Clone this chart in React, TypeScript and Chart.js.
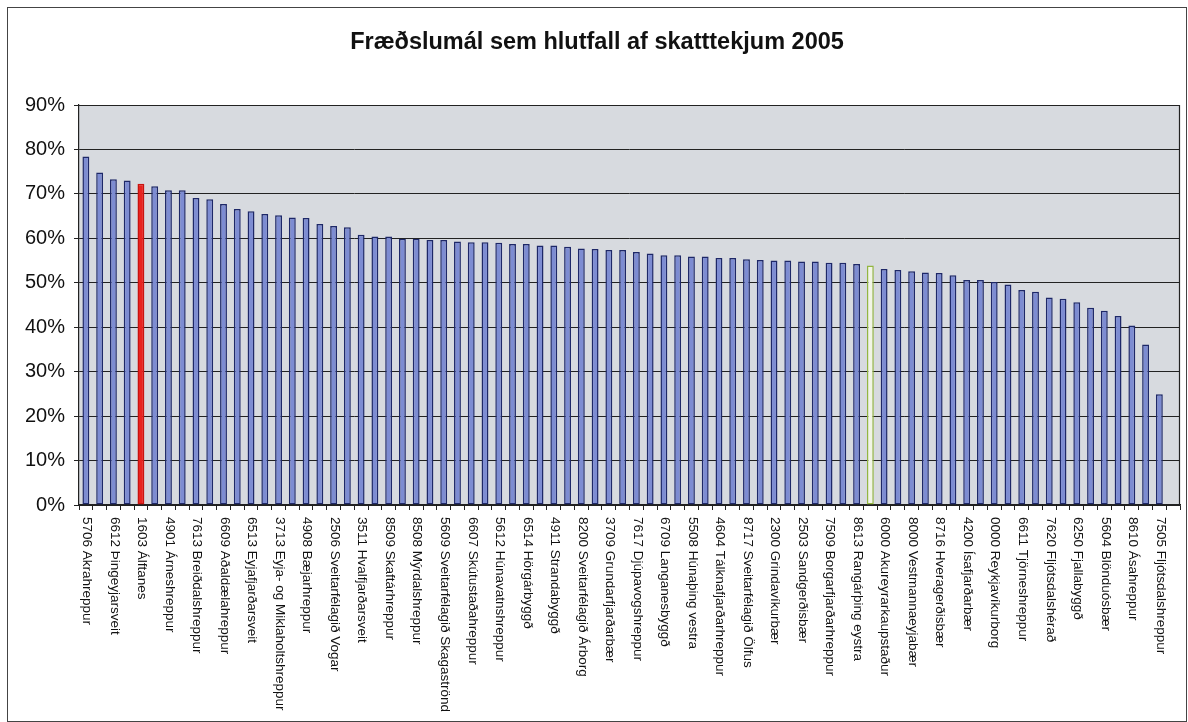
import React, { useEffect, useRef } from "react";
import { Chart, registerables } from "chart.js";

Chart.register(...registerables);

const TITLE = "Fræðslumál sem hlutfall af skatttekjum 2005";

const categories: string[] = [
  "5706 Akrahreppur", "", "6612 Þingeyjarsveit", "", "1603 Álftanes", "",
  "4901 Árneshreppur", "", "7613 Breiðdalshreppur", "", "6609 Aðaldælahreppur", "",
  "6513 Eyjafjarðarsveit", "", "3713 Eyja- og Miklaholtshreppur", "", "4908 Bæjarhreppur", "",
  "2506 Sveitarfélagið Vogar", "", "3511 Hvalfjarðarsveit", "", "8509 Skaftárhreppur", "",
  "8508 Mýrdalshreppur", "", "5609 Sveitarfélagið Skagaströnd", "", "6607 Skútustaðahreppur", "",
  "5612 Húnavatnshreppur", "", "6514 Hörgárbyggð", "", "4911 Strandabyggð", "",
  "8200 Sveitarfélagið Árborg", "", "3709 Grundarfjarðarbær", "", "7617 Djúpavogshreppur", "",
  "6709 Langanesbyggð", "", "5508 Húnaþing vestra", "", "4604 Tálknafjarðarhreppur", "",
  "8717 Sveitarfélagið Ölfus", "", "2300 Grindavíkurbær", "", "2503 Sandgerðisbær", "",
  "7509 Borgarfjarðarhreppur", "", "8613 Rangárþing eystra", "", "6000 Akureyrarkaupstaður", "",
  "8000 Vestmannaeyjabær", "", "8716 Hveragerðisbær", "", "4200 Ísafjarðarbær", "",
  "0000 Reykjavíkurborg", "", "6611 Tjörneshreppur", "", "7620 Fljótsdalshérað", "",
  "6250 Fjallabyggð", "", "5604 Blönduósbær", "", "8610 Ásahreppur", "",
  "7505 Fljótsdalshreppur", "",
];

const values: (number | null)[] = [
  78.4, 74.8, 73.3, 73.0, 72.3, 71.7, 70.8, 70.8, 69.1, 68.8,
  67.7, 66.6, 66.1, 65.5, 65.2, 64.7, 64.6, 63.2, 62.8, 62.5,
  60.8, 60.4, 60.4, 59.9, 59.9, 59.6, 59.6, 59.3, 59.1, 59.1,
  59.0, 58.7, 58.7, 58.4, 58.4, 58.1, 57.7, 57.6, 57.4, 57.4,
  56.9, 56.6, 56.2, 56.2, 55.9, 55.9, 55.6, 55.6, 55.3, 55.1,
  55.0, 55.0, 54.8, 54.8, 54.5, 54.5, 54.2, 53.9, 53.1, 52.9,
  52.6, 52.3, 52.2, 51.7, 50.6, 50.6, 50.2, 49.6, 48.4, 48.0,
  46.7, 46.4, 45.6, 44.4, 43.7, 42.5, 40.4, 36.1, 24.9, null,
];

const yTicks: number[] = [0, 10, 20, 30, 40, 50, 60, 70, 80, 90];

const highlightRed = "1603 Álftanes";
const highlightPaleIndex = 57;

const FONT = "'Liberation Sans', Arial, sans-serif";

export default function App() {
  const ref = useRef<HTMLCanvasElement | null>(null);

  useEffect(() => {
    document.body.style.margin = "0";
    const canvas = ref.current;
    if (!canvas) return;

    const fills = values.map((_, i) =>
      categories[i] === highlightRed ? "#e8231f" : i === highlightPaleIndex ? "#f2f5e6" : "#7d8cd2"
    );
    const borders = values.map((_, i) =>
      categories[i] === highlightRed ? "#c81410" : i === highlightPaleIndex ? "#93b640" : "#1e2868"
    );

    const decor = {
      id: "decor",
      beforeDraw(chart: any) {
        const { ctx, chartArea: a } = chart;
        ctx.save();
        ctx.fillStyle = "#ffffff";
        ctx.fillRect(0, 0, chart.width, chart.height);
        ctx.strokeStyle = "#444";
        ctx.lineWidth = 1;
        ctx.strokeRect(7.5, 7.5, chart.width - 9, chart.height - 8);
        ctx.fillStyle = "#d7dadf";
        ctx.fillRect(a.left, a.top, a.right - a.left, a.bottom - a.top);
        ctx.restore();
      },
      afterDraw(chart: any) {
        const { ctx, chartArea: a } = chart;
        const xs = chart.scales.x;
        ctx.save();
        ctx.strokeStyle = "#222";
        ctx.lineWidth = 1.2;
        ctx.beginPath();
        ctx.moveTo(a.left, a.top + 0.5);
        ctx.lineTo(a.right - 0.5, a.top + 0.5);
        ctx.lineTo(a.right - 0.5, a.bottom);
        ctx.stroke();
        // title
        ctx.fillStyle = "#111";
        ctx.font = `bold 23.5px ${FONT}`;
        ctx.textAlign = "center";
        ctx.textBaseline = "middle";
        ctx.fillText(TITLE, 597, 43);
        // rotated x labels (reading top to bottom)
        ctx.font = `13.5px ${FONT}`;
        ctx.textAlign = "left";
        ctx.textBaseline = "middle";
        categories.forEach((lab, i) => {
          if (!lab) return;
          const x = xs.getPixelForValue(i);
          ctx.save();
          ctx.translate(x + 1, a.bottom + 12);
          ctx.rotate(Math.PI / 2);
          ctx.fillText(lab, 0, 0);
          ctx.restore();
        });
        ctx.restore();
      },
    };

    const chart = new Chart(canvas, {
      type: "bar",
      data: {
        labels: categories,
        datasets: [
          {
            data: values,
            backgroundColor: fills,
            borderColor: borders,
            borderWidth: 1.5,
            borderSkipped: false,
            categoryPercentage: 1,
            barPercentage: 0.5,
          },
        ],
      },
      options: {
        animation: false,
        responsive: false,
        maintainAspectRatio: false,
        layout: { padding: { top: 105, right: 8, left: 0, bottom: 0 } },
        plugins: { legend: { display: false }, tooltip: { enabled: false }, title: { display: false } },
        scales: {
          x: {
            ticks: { display: false, autoSkip: false },
            grid: { display: true, drawOnChartArea: false, drawTicks: true, tickLength: 5, color: "#222", offset: true },
            border: { display: true, color: "#222", width: 1.2 },
            afterFit(s: any) {
              s.height = 217;
            },
          },
          y: {
            min: 0,
            max: 90,
            afterBuildTicks(s: any) {
              s.ticks = yTicks.map((v) => ({ value: v }));
            },
            ticks: {
              callback: (v: any) => `${v}%`,
              color: "#111",
              font: { family: FONT, size: 20 },
              padding: 9,
            },
            grid: { color: "#222", lineWidth: 1, tickLength: 5, drawTicks: true },
            border: { display: true, color: "#222", width: 1.2 },
            afterFit(s: any) {
              s.width = 79;
            },
          },
        },
      },
      plugins: [decor],
    });

    return () => chart.destroy();
  }, []);

  return <canvas ref={ref} width={1188} height={722} style={{ display: "block" }} />;
}
